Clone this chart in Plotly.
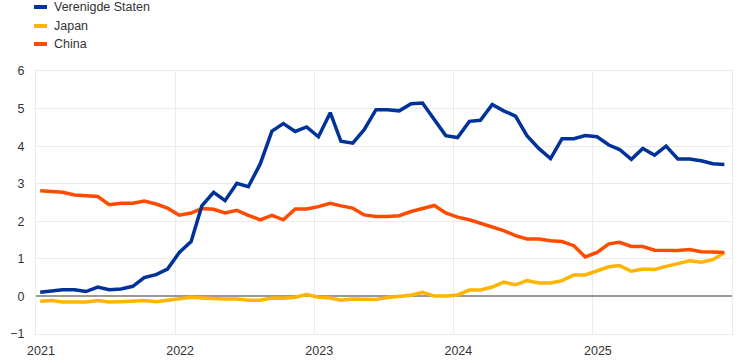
import plotly.graph_objects as go
import pandas as pd

months = pd.date_range("2021-01-01", periods=60, freq="MS") + pd.Timedelta(days=11)

us = [0.11, 0.15, 0.18, 0.18, 0.13, 0.25, 0.18, 0.20, 0.27, 0.50, 0.58, 0.73,
      1.17, 1.46, 2.41, 2.77, 2.55, 3.01, 2.92, 3.52, 4.40, 4.60, 4.39, 4.51,
      4.25, 4.89, 4.13, 4.08, 4.44, 4.97, 4.97, 4.94, 5.13, 5.15, 4.71, 4.28,
      4.23, 4.66, 4.69, 5.11, 4.94, 4.80, 4.28, 3.94, 3.67, 4.20, 4.20, 4.28,
      4.25, 4.03, 3.91, 3.65, 3.94, 3.76, 4.00, 3.66, 3.66, 3.61, 3.53, 3.51]

japan = [-0.13, -0.11, -0.15, -0.16, -0.15, -0.11, -0.15, -0.14, -0.12, -0.11, -0.14, -0.10,
         -0.06, -0.02, -0.04, -0.06, -0.07, -0.07, -0.10, -0.10, -0.04, -0.05, -0.02, 0.05,
         -0.02, -0.04, -0.10, -0.07, -0.08, -0.08, -0.03, 0.00, 0.03, 0.11, 0.01, 0.01,
         0.04, 0.17, 0.17, 0.25, 0.38, 0.31, 0.42, 0.36, 0.36, 0.42, 0.57, 0.57,
         0.69, 0.79, 0.82, 0.67, 0.73, 0.72, 0.80, 0.87, 0.95, 0.91, 0.98, 1.16]

china = [2.81, 2.78, 2.77, 2.70, 2.69, 2.66, 2.44, 2.48, 2.48, 2.54, 2.46, 2.35,
         2.16, 2.22, 2.34, 2.32, 2.22, 2.29, 2.16, 2.04, 2.16, 2.04, 2.33, 2.33,
         2.39, 2.48, 2.41, 2.35, 2.17, 2.13, 2.13, 2.15, 2.26, 2.35, 2.42, 2.22,
         2.11, 2.04, 1.95, 1.86, 1.75, 1.62, 1.53, 1.53, 1.48, 1.46, 1.35, 1.05,
         1.17, 1.40, 1.44, 1.33, 1.33, 1.23, 1.23, 1.22, 1.25, 1.19, 1.18, 1.17]

series_names = ["Verenigde Staten", "Japan", "China"]
colors = ["#003299", "#FFB400", "#FF4B00"]
year_ticks = ["2021-01-01", "2022-01-01", "2023-01-01", "2024-01-01", "2025-01-01"]
year_labels = ["2021", "2022", "2023", "2024", "2025"]

W, H = 744, 363
fig = go.Figure()
# draw order: Japan, China, US on top
for name, vals, col in [(series_names[1], japan, colors[1]),
                        (series_names[2], china, colors[2]),
                        (series_names[0], us, colors[0])]:
    fig.add_trace(go.Scatter(x=months, y=vals, mode="lines", name=name,
                             line=dict(color=col, width=3.5), showlegend=False))

ml, mr, mt, mb = 36, 12, 71, 29
pw, ph = W - ml - mr, H - mt - mb

def px_x(x):
    return (x - ml) / pw

def px_y(y):
    return (H - mb - y) / ph

# manual legend (outside plot area, must not push margins)
shapes = []
annotations = []
legend_rows = [7, 26, 44]
for name, col, ypix in zip(series_names, colors, legend_rows):
    shapes.append(dict(type="line", xref="paper", yref="paper",
                       x0=px_x(34), x1=px_x(47), y0=px_y(ypix), y1=px_y(ypix),
                       line=dict(color=col, width=4)))
    annotations.append(dict(xref="paper", yref="paper", x=px_x(52), y=px_y(ypix),
                            text=name, showarrow=False, xanchor="left", yanchor="middle",
                            font=dict(size=12.5, color="#333333")))

fig.update_layout(
    width=W, height=H,
    margin=dict(l=ml, r=mr, t=mt, b=mb, autoexpand=False),
    paper_bgcolor="white", plot_bgcolor="white",
    font=dict(family="Liberation Sans, Arial, sans-serif", size=12, color="#333333"),
    showlegend=False,
    shapes=shapes, annotations=annotations,
)

fig.update_xaxes(range=["2021-01-01", "2026-01-01"], tickvals=year_ticks, ticktext=year_labels,
                 showgrid=True, gridcolor="#ebebeb", gridwidth=1,
                 showline=True, linecolor="#ebebeb", mirror=True, ticks="",
                 ticklabelshift=5, ticklabelstandoff=5, tickfont=dict(size=12.5), zeroline=False)
fig.update_yaxes(range=[-1, 6], dtick=1, showgrid=True, gridcolor="#ebebeb", gridwidth=1,
                 showline=True, linecolor="#ebebeb", mirror=True, ticks="",
                 ticklabelstandoff=8, tickfont=dict(size=12.5),
                 zeroline=True, zerolinecolor="#999999", zerolinewidth=1.5)

fig.write_html("out.html", config={"displayModeBar": False},
               post_script="document.body.style.margin='0';document.body.style.overflow='hidden';")
